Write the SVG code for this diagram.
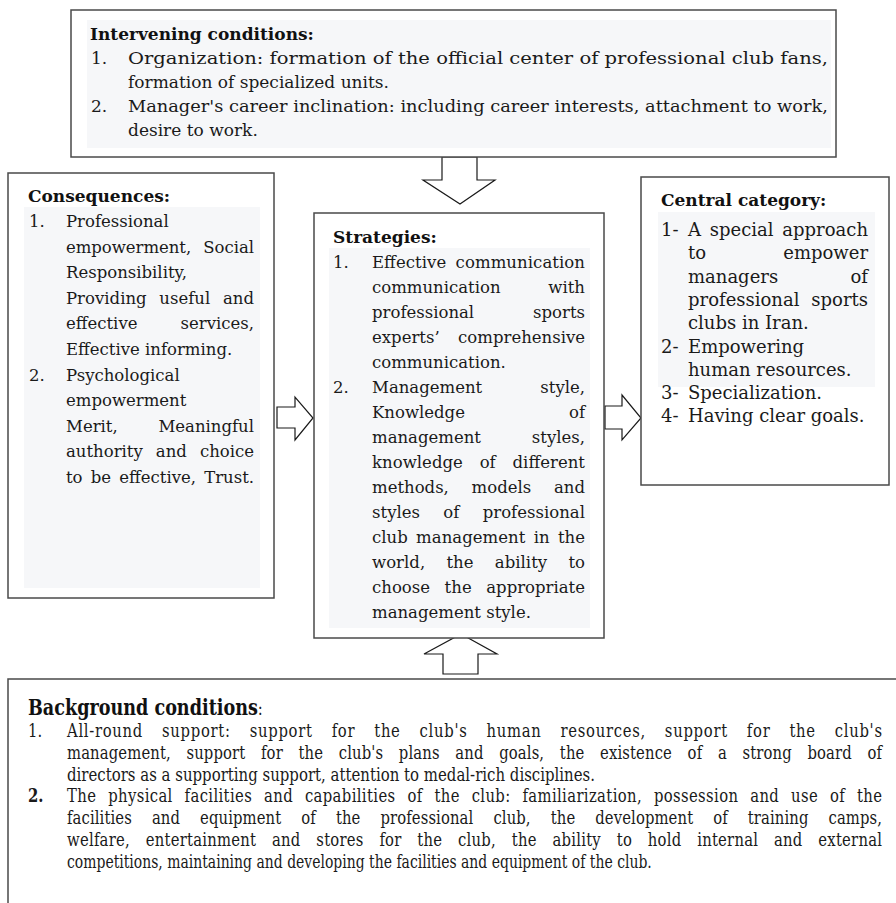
<svg xmlns="http://www.w3.org/2000/svg" width="896" height="903" viewBox="0 0 896 903">
<style>
.box{fill:#ffffff;stroke:#4a4a4a;stroke-width:1.5}
.bg{fill:#f6f7f9;stroke:none}
.arr{fill:#ffffff;stroke:#1a1a1a;stroke-width:1.2;stroke-linejoin:miter}
.t{font-family:"DejaVu Serif","Liberation Serif",serif;font-size:16.5px;fill:#1a1a1a}
.tt{font-family:"DejaVu Serif","Liberation Serif",serif;font-size:17px;fill:#1a1a1a}
.tr{font-family:"DejaVu Serif","Liberation Serif",serif;font-size:18px;fill:#1a1a1a}
.h{font-family:"DejaVu Serif","Liberation Serif",serif;font-size:17px;font-weight:bold;fill:#111}
.b{font-family:"DejaVu Serif","Liberation Serif",serif;font-size:18.5px;fill:#1a1a1a}
.bh{font-family:"DejaVu Serif","Liberation Serif",serif;font-size:22px;font-weight:bold;fill:#111}
.end{text-anchor:end}
</style>
<rect x="0" y="0" width="896" height="903" fill="#ffffff"/>

<g id="connectors">
<polygon class="arr" points="442,157 477,157 477,180 495,180 460,204 423,180 442,180"/>
<polygon class="arr" points="277,407 295,407 295,397 313,418 295,440 295,428 277,428"/>
<polygon class="arr" points="605,406 622,406 622,395 641,418 622,440 622,429 605,429"/>
<polygon class="arr" points="461,634 497,654 478,654 478,674 443,674 443,654 424,654"/>
</g>

<g id="intervening">
<rect class="box" x="71" y="10" width="765" height="147"/>
<rect class="bg" x="87" y="20" width="744" height="128"/>
<text class="h" x="90" y="40">Intervening conditions:</text>
<text class="tt" x="91" y="64">1.</text>
<text class="tt" x="128" y="64" textLength="700" lengthAdjust="spacingAndGlyphs">Organization: formation of the official center of professional club fans,</text>
<text class="tt" x="128" y="88">formation of specialized units.</text>
<text class="tt" x="91" y="112">2.</text>
<text class="tt" x="128" y="112" textLength="700" lengthAdjust="spacingAndGlyphs">Manager's career inclination: including career interests, attachment to work,</text>
<text class="tt" x="128" y="136">desire to work.</text>
</g>

<g id="consequences">
<rect class="box" x="8" y="173" width="266" height="425"/>
<rect class="bg" x="24" y="207" width="236" height="381"/>
<text class="h" x="28" y="202">Consequences:</text>
<text class="t" x="29" y="227">1.</text>
<text class="t" x="66" y="227">Professional</text>
<text class="t" x="66" y="252.6" word-spacing="7" textLength="188" lengthAdjust="spacing">empowerment, Social</text>
<text class="t" x="66" y="278.2">Responsibility,</text>
<text class="t" x="66" y="303.8" word-spacing="7.4" textLength="188" lengthAdjust="spacing">Providing useful and</text>
<text class="t" x="66" y="329.4">effective</text>
<text class="t end" x="254" y="329.4">services,</text>
<text class="t" x="66" y="355">Effective informing.</text>
<text class="t" x="29" y="380.6">2.</text>
<text class="t" x="66" y="380.6">Psychological</text>
<text class="t" x="66" y="406.2">empowerment</text>
<text class="t" x="66" y="431.8">Merit,</text>
<text class="t end" x="254" y="431.8">Meaningful</text>
<text class="t" x="66" y="457.4" word-spacing="7.8" textLength="188" lengthAdjust="spacing">authority and choice</text>
<text class="t" x="66" y="483" word-spacing="3" textLength="188" lengthAdjust="spacing">to be effective, Trust.</text>
</g>

<g id="strategies">
<rect class="box" x="314" y="213" width="290" height="425"/>
<rect class="bg" x="329" y="248" width="261" height="380"/>
<text class="h" x="333" y="243">Strategies:</text>
<text class="t" x="333" y="268">1.</text>
<text class="t" x="372" y="268" word-spacing="4" textLength="213" lengthAdjust="spacing">Effective communication</text>
<text class="t" x="372" y="293">communication</text>
<text class="t end" x="585" y="293">with</text>
<text class="t" x="372" y="318">professional</text>
<text class="t end" x="585" y="318">sports</text>
<text class="t" x="372" y="343">experts’</text>
<text class="t end" x="585" y="343">comprehensive</text>
<text class="t" x="372" y="368">communication.</text>
<text class="t" x="333" y="393">2.</text>
<text class="t" x="372" y="393">Management</text>
<text class="t end" x="585" y="393">style,</text>
<text class="t" x="372" y="418">Knowledge</text>
<text class="t end" x="585" y="418">of</text>
<text class="t" x="372" y="443">management</text>
<text class="t end" x="585" y="443">styles,</text>
<text class="t" x="372" y="468" word-spacing="11.5" textLength="213" lengthAdjust="spacing">knowledge of different</text>
<text class="t" x="372" y="493" word-spacing="17.5" textLength="213" lengthAdjust="spacing">methods, models and</text>
<text class="t" x="372" y="518" word-spacing="18" textLength="213" lengthAdjust="spacing">styles of professional</text>
<text class="t" x="372" y="543" word-spacing="3" textLength="213" lengthAdjust="spacing">club management in the</text>
<text class="t" x="372" y="568" word-spacing="16" textLength="213" lengthAdjust="spacing">world, the ability to</text>
<text class="t" x="372" y="593" word-spacing="9.4" textLength="213" lengthAdjust="spacing">choose the appropriate</text>
<text class="t" x="372" y="618">management style.</text>
</g>

<g id="central">
<rect class="box" x="641" y="177" width="248" height="308"/>
<rect class="bg" x="658" y="212" width="217" height="175"/>
<text class="h" x="661" y="206">Central category:</text>
<text class="tr" x="661" y="236">1-</text>
<text class="tr" x="688" y="236" word-spacing="3" textLength="180" lengthAdjust="spacing">A special approach</text>
<text class="tr" x="688" y="259.3">to</text>
<text class="tr end" x="868" y="259.3">empower</text>
<text class="tr" x="688" y="282.6">managers</text>
<text class="tr end" x="868" y="282.6">of</text>
<text class="tr" x="688" y="305.9">professional</text>
<text class="tr end" x="868" y="305.9">sports</text>
<text class="tr" x="688" y="329.2">clubs in Iran.</text>
<text class="tr" x="661" y="352.5">2-</text>
<text class="tr" x="688" y="352.5">Empowering</text>
<text class="tr" x="688" y="375.8">human resources.</text>
<text class="tr" x="661" y="399.1">3-</text>
<text class="tr" x="688" y="399.1">Specialization.</text>
<text class="tr" x="661" y="422.4">4-</text>
<text class="tr" x="688" y="422.4">Having clear goals.</text>
</g>

<g id="background">
<rect class="box" x="8" y="679" width="900" height="300"/>
<g transform="scale(0.8,1)">
<text x="35" y="715"><tspan class="bh">Background conditions</tspan><tspan class="b" font-size="21px">:</tspan></text>
<text class="b" x="35" y="737">1.</text>
<text class="b" x="83.75" y="737" word-spacing="17" textLength="1018.75" lengthAdjust="spacing">All-round support: support for the club's human resources, support for the club's</text>
<text class="b" x="83.75" y="758.8" word-spacing="13.5" textLength="1018.75" lengthAdjust="spacing">management, support for the club's plans and goals, the existence of a strong board of</text>
<text class="b" x="83.75" y="780.6" textLength="660" lengthAdjust="spacingAndGlyphs">directors as a supporting support, attention to medal-rich disciplines.</text>
<text class="b" x="35" y="802.4" font-weight="bold">2.</text>
<text class="b" x="83.75" y="802.4" word-spacing="8.5" textLength="1018.75" lengthAdjust="spacing">The physical facilities and capabilities of the club: familiarization, possession and use of the</text>
<text class="b" x="83.75" y="824.2" word-spacing="19" textLength="1018.75" lengthAdjust="spacing">facilities and equipment of the professional club, the development of training camps,</text>
<text class="b" x="83.75" y="846" word-spacing="13.5" textLength="1018.75" lengthAdjust="spacing">welfare, entertainment and stores for the club, the ability to hold internal and external</text>
<text class="b" x="83.75" y="867.8" textLength="731" lengthAdjust="spacingAndGlyphs">competitions, maintaining and developing the facilities and equipment of the club.</text>
</g>
</g>
</svg>
